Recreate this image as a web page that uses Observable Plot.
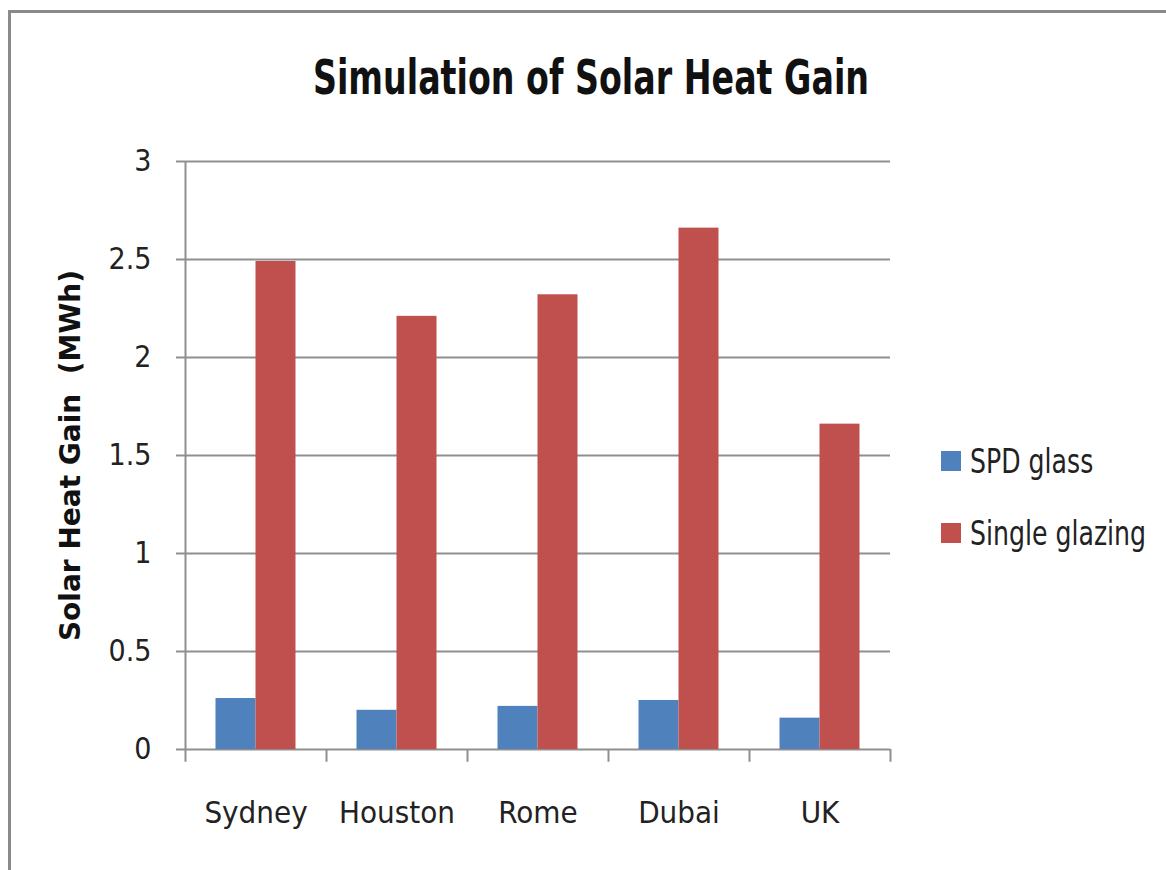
<!DOCTYPE html>
<html>
<head>
<meta charset="utf-8">
<script src="https://cdn.jsdelivr.net/npm/d3@7"></script>
<script src="https://cdn.jsdelivr.net/npm/@observablehq/plot@0.6"></script>
<style>
  body { margin: 0; background: #fff; }
  #wrap { position: relative; width: 1166px; height: 870px; overflow: hidden; background: #fff; }
  #border { position: absolute; left: 8px; top: 10px; width: 1200px; height: 900px;
    border-top: 3px solid #8a8a8a; border-left: 3px solid #8a8a8a; }
  #chart { position: absolute; left: 0; top: 0; }
  #title { position: absolute; left: 0; width: 1182px; top: 56px; text-align: center;
    font: bold 37px "DejaVu Sans Condensed", sans-serif; color: #111;
    transform: scaleY(1.3); transform-origin: center; white-space: nowrap; }
  #legend { position: absolute; left: 941px; top: 443px;
    font: 28px "DejaVu Sans Condensed", sans-serif; color: #222; white-space: nowrap; }
  .item { display: flex; align-items: center; height: 36px; margin-bottom: 36px; }
  .sw { width: 20px; height: 20px; margin-right: 9px; }
  .lab { display: inline-block; transform: scaleY(1.2); }
</style>
</head>
<body>
<div id="wrap">
  <div id="border"></div>
  <div id="chart"></div>
  <div id="title">Simulation of Solar Heat Gain</div>
  <div id="legend"></div>
</div>
<script>
const cities = ["Sydney", "Houston", "Rome", "Dubai", "UK"]
const series = ["SPD glass", "Single glazing"]
const spdGlass = [0.26, 0.20, 0.22, 0.25, 0.16]
const singleGlazing = [2.49, 2.21, 2.32, 2.66, 1.66]
const yTicks = [0, 0.5, 1, 1.5, 2, 2.5, 3]
const colors = ["#4F81BD", "#C0504D"]

const data = cities.flatMap((c, i) => [
  {city: c, series: series[0], value: spdGlass[i]},
  {city: c, series: series[1], value: singleGlazing[i]}
])

// layout
const W = 900, H = 870, mL = 185, mR = 10, mT = 161, mB = 121
const band = (W - mL - mR) / cities.length
const barW = 40
const gap = (band - 2 * barW) / 2
const font = '"DejaVu Sans Condensed", sans-serif'
const grey = "#8f8f8f"

let chart = Plot.plot({
  width: W,
  height: H,
  marginLeft: mL,
  marginRight: mR,
  marginTop: mT,
  marginBottom: mB,
  style: {background: "transparent", fontFamily: font, color: "#222"},
  x: {domain: cities, padding: 0, label: null},
  y: {domain: [0, 3], label: null},
  color: {domain: series, range: colors},
  marks: [
    Plot.gridY({ticks: yTicks, stroke: grey, strokeOpacity: 1, strokeWidth: 2}),
    Plot.axisY({ticks: yTicks, tickSize: 9, tickPadding: 25, fontSize: 30,
      stroke: grey, strokeWidth: 2, fill: "#222", label: null, tickFormat: d => d}),
    Plot.axisX({tickSize: 0, tickPadding: 51, fontSize: 31, fill: "#222", label: null}),
    // category separators and the y axis line
    Plot.ruleX(cities, {x: d => d, dx: -band / 2, y1: (d, i) => i === 0 ? 3 : 0, y2: -0.065,
      stroke: grey, strokeWidth: 2}),
    Plot.ruleX([cities[cities.length - 1]], {x: d => d, dx: band / 2, y1: 0, y2: -0.065,
      stroke: grey, strokeWidth: 2}),
    Plot.barY(data.filter(d => d.series == series[0]),
      {x: "city", y: "value", fill: "series", insetLeft: gap, insetRight: band - gap - barW}),
    Plot.barY(data.filter(d => d.series == series[1]),
      {x: "city", y: "value", fill: "series", insetLeft: gap + barW, insetRight: gap}),
    Plot.text(["Solar Heat Gain  (MWh)"], {frameAnchor: "left", rotate: -90, dx: -114,
      textAnchor: "middle", fontSize: 28, fontWeight: "bold", fill: "#111",
      fontFamily: '"DejaVu Sans", sans-serif'})
  ]
})

d3.select('#chart').append(() => chart)

// legend
const legend = d3.select('#legend')
series.forEach((s, i) => {
  const item = legend.append('div').attr('class', 'item')
  item.append('div').attr('class', 'sw').style('background', colors[i])
  item.append('span').attr('class', 'lab').text(s)
})
</script>
</body>
</html>
